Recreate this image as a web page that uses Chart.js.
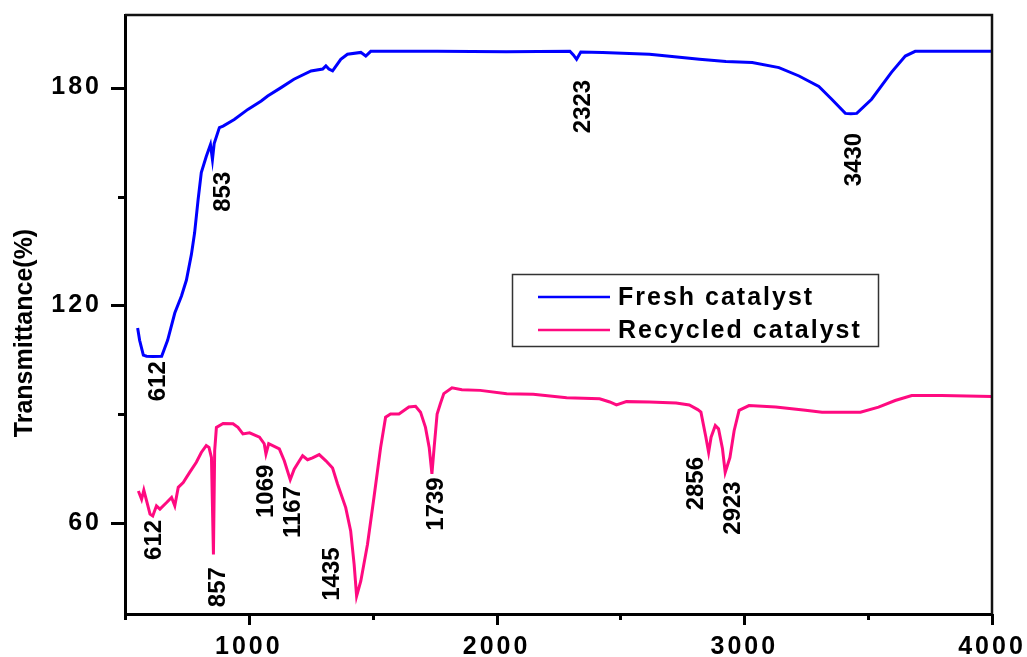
<!DOCTYPE html>
<html>
<head>
<meta charset="utf-8">
<script src="https://cdn.jsdelivr.net/npm/chart.js@4/dist/chart.umd.min.js"></script>
<style>
  html, body { margin: 0; padding: 0; background: #fff; }
  #wrap { width: 1027px; height: 657px; }
</style>
</head>
<body>
<div id="wrap"><canvas id="irChart" width="1027" height="657"></canvas></div>
<script>
// FTIR spectra, wavenumber (cm-1) vs transmittance (%)
const freshWavenumber = [551, 559, 574, 587, 612, 648, 672, 701, 728, 748, 768, 781, 795, 808, 828, 845, 853, 860,
  881, 896, 941, 996, 1050, 1076, 1130, 1182, 1251, 1298, 1311, 1323, 1338, 1371, 1398, 1452, 1472, 1492,
  1760, 2040, 2296, 2310, 2323, 2340, 2428, 2617, 2658, 2819, 2926, 3032, 3140, 3221, 3301, 3353, 3408,
  3430, 3454, 3514, 3594, 3650, 3690, 3850, 4000];
const freshTransmittance = [113.8, 110.4, 106.3, 106.0, 105.9, 106.0, 110.4, 117.9, 122.6, 127.0, 134.0, 140.0, 149.1, 156.6, 161.0, 164.3, 160.2, 164.6,
  169.0, 169.4, 171.2, 174.0, 176.3, 177.7, 180.0, 182.3, 184.6, 185.1, 186.0, 185.1, 184.6, 187.8, 189.2, 189.7, 188.7, 190.0,
  190.0, 189.9, 190.0, 189.0, 187.8, 189.8, 189.7, 189.2, 188.9, 187.8, 187.2, 186.9, 185.5, 183.2, 180.3, 176.8, 172.9,
  172.8, 172.9, 176.8, 184.2, 188.7, 190.0, 190.0, 190.0];

const recycledWavenumber = [554, 567, 576, 587, 601, 612, 627, 641, 668, 688, 701, 715, 735, 761, 788, 808, 828, 839, 849, 857, 862,
  869, 896, 936, 956, 976, 1003, 1043, 1062, 1069, 1080, 1123, 1143, 1167, 1183, 1204, 1217, 1237, 1257, 1284, 1311,
  1338, 1358, 1391, 1411, 1425, 1435, 1452, 1479, 1505, 1532, 1552, 1572, 1606, 1646, 1673, 1693, 1713, 1728, 1739,
  1748, 1760, 1773, 1787, 1820, 1860, 1934, 2041, 2148, 2283, 2416, 2457, 2484, 2524, 2617, 2725, 2778, 2812, 2825,
  2845, 2856, 2866, 2883, 2896, 2912, 2923, 2942, 2959, 2979, 3019, 3127, 3247, 3314, 3469, 3542, 3609, 3676, 3797, 4000];
const recycledTransmittance = [68.9, 66.6, 69.1, 66.2, 62.5, 62.0, 64.8, 63.9, 65.7, 67.1, 64.8, 69.9, 71.2, 74.0, 76.8, 79.5, 81.4, 80.9, 78.1, 51.4, 80.0,
  86.4, 87.5, 87.4, 86.4, 84.6, 84.9, 83.7, 81.9, 79.1, 81.9, 80.5, 77.2, 72.0, 74.9, 77.2, 78.6, 77.5, 78.0, 78.9, 77.2,
  75.2, 70.8, 64.3, 57.9, 48.7, 39.9, 44.1, 54.2, 67.1, 80.9, 89.2, 90.1, 90.1, 92.0, 92.2, 90.6, 86.4, 80.9, 73.6,
  80.9, 90.1, 92.9, 95.7, 97.3, 96.8, 96.6, 95.7, 95.5, 94.6, 94.3, 93.4, 92.6, 93.5, 93.4, 93.1, 92.6, 91.3, 90.6,
  83.7, 79.5, 83.7, 86.9, 86.0, 80.5, 74.0, 78.1, 85.5, 91.1, 92.4, 92.0, 91.1, 90.6, 90.6, 92.0, 93.8, 95.2, 95.2, 94.9];

const seriesNames = ['Fresh catalyst', 'Recycled catalyst'];
const xTickValues = [1000, 2000, 3000, 4000];
const yTickValues = [60, 120, 180];

// band assignments written next to each curve
const freshBands = ['612', '853', '2323', '3430'];
const recycledBands = ['612', '857', '1069', '1167', '1435', '1739', '2856', '2923'];

// where each band number sits (centre of the text, in axis units)
const freshBandSpots = [[636, 99.1], [897, 151.3], [2349, 174.8], [3446, 160.2]];
const recycledBandSpots = [[619, 55.4], [877, 42.4], [1070, 68.8], [1178, 63.1], [1339, 46.0], [1757, 65.3], [2807, 70.9], [2955, 64.2]];

const FONT = "'Liberation Sans', Arial, sans-serif";

function toPoints(xs, ys) {
    return xs.map((x, i) => ({ x: x, y: ys[i] }));
}

// keep the plot box fixed: no extra room for overhanging end labels
function noOverhang(scale) {
    scale.paddingLeft = 0;
    scale.paddingRight = 0;
    scale.paddingTop = 0;
    scale.paddingBottom = 0;
}

const framePlugin = {
    id: 'frame',
    beforeDraw(chart) {
        chart.ctx.letterSpacing = '3px';
    },
    afterDraw(chart) {
        const ctx = chart.ctx;
        const area = chart.chartArea;
        const xs = chart.scales.x;
        const ys = chart.scales.y;
        ctx.save();
        ctx.letterSpacing = '0px';

        // top and right sides of the box
        ctx.strokeStyle = '#111';
        ctx.lineWidth = 2.5;
        ctx.beginPath();
        ctx.moveTo(area.left, area.top);
        ctx.lineTo(area.right, area.top);
        ctx.lineTo(area.right, area.bottom);
        ctx.stroke();

        // outward tick marks, long on labelled values
        ctx.strokeStyle = '#000';
        ctx.lineWidth = 3;
        for (let v = 500; v <= 4000; v += 500) {
            const px = Math.round(xs.getPixelForValue(v)) + 0.5;
            const len = v % 1000 === 0 ? 11 : 6;
            ctx.beginPath();
            ctx.moveTo(px, area.bottom);
            ctx.lineTo(px, area.bottom + len);
            ctx.stroke();
        }
        for (let v = 60; v <= 180; v += 30) {
            const py = Math.round(ys.getPixelForValue(v)) + 0.5;
            const len = v % 60 === 0 ? 14 : 7;
            ctx.beginPath();
            ctx.moveTo(area.left, py);
            ctx.lineTo(area.left - len, py);
            ctx.stroke();
        }

        // y axis title
        ctx.fillStyle = '#000';
        ctx.font = 'bold 25px ' + FONT;
        ctx.textAlign = 'center';
        ctx.textBaseline = 'middle';
        ctx.save();
        ctx.translate(25, 333);
        ctx.rotate(-Math.PI / 2);
        ctx.fillText('Transmittance(%)', 0, 0);
        ctx.restore();

        // band numbers, rotated to read upwards
        ctx.font = 'bold 24px ' + FONT;
        const drawBands = (texts, spots) => {
            texts.forEach((t, i) => {
                ctx.save();
                ctx.translate(xs.getPixelForValue(spots[i][0]), ys.getPixelForValue(spots[i][1]));
                ctx.rotate(-Math.PI / 2);
                ctx.fillText(t, 0, 0);
                ctx.restore();
            });
        };
        drawBands(freshBands, freshBandSpots);
        drawBands(recycledBands, recycledBandSpots);

        // legend box
        ctx.strokeStyle = '#333';
        ctx.lineWidth = 1.5;
        ctx.strokeRect(512.5, 274.5, 366, 72);
        ctx.font = 'bold 25px ' + FONT;
        ctx.letterSpacing = '2px';
        ctx.textAlign = 'left';
        chart.data.datasets.forEach((ds, i) => {
            const y = 297 + i * 33;
            ctx.strokeStyle = ds.borderColor;
            ctx.lineWidth = 2.5;
            ctx.beginPath();
            ctx.moveTo(538, y);
            ctx.lineTo(610, y);
            ctx.stroke();
            ctx.fillStyle = '#000';
            ctx.fillText(ds.label, 618, y + 1);
        });
        ctx.restore();
    }
};

const ctx = document.getElementById('irChart').getContext('2d');
new Chart(ctx, {
    type: 'line',
    data: {
        datasets: [{
            label: seriesNames[0],
            data: toPoints(freshWavenumber, freshTransmittance),
            borderColor: '#0000ff',
            borderWidth: 3
        }, {
            label: seriesNames[1],
            data: toPoints(recycledWavenumber, recycledTransmittance),
            borderColor: '#ff0a80',
            borderWidth: 3
        }]
    },
    options: {
        responsive: false,
        animation: false,
        events: [],
        layout: { padding: { top: 15, right: 35, left: 0, bottom: 0 } },
        elements: {
            point: { radius: 0 },
            line: { tension: 0 }
        },
        plugins: {
            legend: { display: false },
            tooltip: { enabled: false }
        },
        scales: {
            x: {
                type: 'linear',
                min: 500,
                max: 4000,
                afterBuildTicks: (scale) => { scale.ticks = xTickValues.map(v => ({ value: v })); },
                afterFit: (scale) => { scale.height = 43; noOverhang(scale); },
                grid: { drawOnChartArea: false, drawTicks: false },
                border: { color: '#000', width: 3 },
                ticks: {
                    color: '#000',
                    padding: 18,
                    maxRotation: 0,
                    callback: (value) => String(value),
                    font: { family: FONT, size: 25, weight: 'bold' }
                }
            },
            y: {
                min: 35,
                max: 200,
                afterBuildTicks: (scale) => { scale.ticks = yTickValues.map(v => ({ value: v })); },
                afterFit: (scale) => { scale.width = 125; noOverhang(scale); },
                grid: { drawOnChartArea: false, drawTicks: false },
                border: { color: '#000', width: 3 },
                ticks: {
                    color: '#000',
                    padding: 23,
                    callback: (value) => String(value),
                    font: { family: FONT, size: 25, weight: 'bold' }
                }
            }
        }
    },
    plugins: [framePlugin]
});
</script>
</body>
</html>
